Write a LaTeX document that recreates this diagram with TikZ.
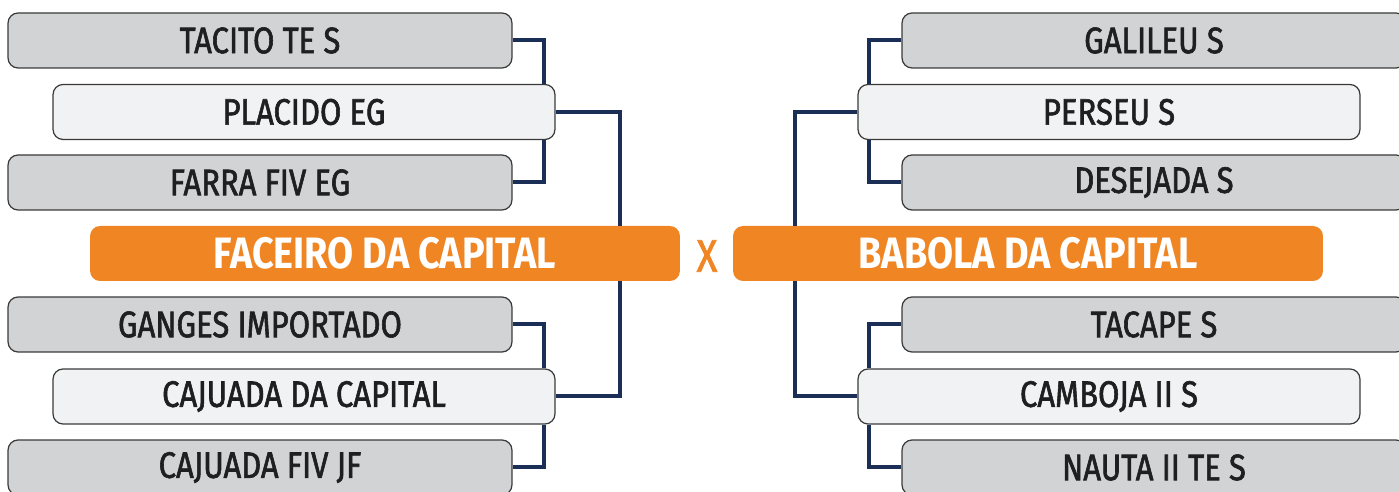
\documentclass[tikz,border=0pt]{standalone}
\usepackage{fontspec}
\setmainfont{Fira Sans}[FakeStretch=0.86]
\newfontfamily\entrantfont{Fira Sans}[FakeStretch=0.84, FakeBold=1.6]

\definecolor{boxgray}{HTML}{D1D3D4}
\definecolor{boxlight}{HTML}{F1F2F3}
\definecolor{boxedge}{HTML}{3A3A3A}
\definecolor{finalorange}{HTML}{F08523}
\definecolor{linknavy}{HTML}{1B2F56}

\begin{document}
\begin{tikzpicture}[x=0.02cm, y=-0.02cm,
    entrant/.style={draw=boxedge, line width=0.7pt, fill=boxgray, rounded corners=0.2cm,
        minimum width=10.08cm, minimum height=1.1cm, inner sep=0pt,
        font=\entrantfont\fontsize{21}{22}\selectfont, text=black!88},
    winner/.style={entrant, fill=boxlight, minimum width=10.04cm},
    finalist/.style={fill=finalorange, rounded corners=0.2cm, minimum width=11.8cm,
        minimum height=1.1cm, inner sep=0pt, text=white,
        font=\fontsize{25}{26}\selectfont\bfseries},
    link/.style={draw=linknavy, line width=0.08cm, line join=miter}]

    % Fix the frame to the size of the reference
    \useasboundingbox (0,0) rectangle (1399,492);
    \clip (0,0) rectangle (1399,492);

    % Left half of the bracket
    \node[entrant] (tacito) at (260, 40.5) {TACITO TE S};
    \node[winner] (placido) at (304, 112) {PLACIDO EG};
    \node[entrant] (farra) at (260, 182.5) {FARRA FIV EG};
    \node[finalist] (faceiro) at (385, 253.5) {FACEIRO DA CAPITAL};
    \node[entrant] (ganges) at (260, 324.5) {GANGES IMPORTADO};
    \node[winner] (cajcap) at (304, 396.5) {CAJUADA DA CAPITAL};
    \node[entrant] (cajfiv) at (260, 467.5) {CAJUADA FIV JF};

    % Right half of the bracket
    \node[entrant] (galileu) at (1154, 40.5) {GALILEU S};
    \node[winner] (perseu) at (1109, 112) {PERSEU S};
    \node[entrant] (desejada) at (1154, 182.5) {DESEJADA S};
    \node[finalist] (babola) at (1028, 253.5) {BABOLA DA CAPITAL};
    \node[entrant] (tacape) at (1154, 324.5) {TACAPE S};
    \node[winner] (camboja) at (1109, 396.5) {CAMBOJA II S};
    \node[entrant] (nauta) at (1154, 467.5) {NAUTA II TE S};

    % The versus mark between the two finalists
    \node[text=finalorange, font=\entrantfont\fontsize{26}{27}\selectfont] (versus) at (707, 256) {X};

    % Left connectors
    \draw[link] (tacito.east) -| ([xshift=-0.24cm]placido.north east);
    \draw[link] (farra.east) -| ([xshift=-0.24cm]placido.south east);
    \draw[link] (ganges.east) -| ([xshift=-0.24cm]cajcap.north east);
    \draw[link] (cajfiv.east) -| ([xshift=-0.24cm]cajcap.south east);
    \draw[link] (placido.east) -| ([xshift=-1.2cm]faceiro.north east);
    \draw[link] (cajcap.east) -| ([xshift=-1.2cm]faceiro.south east);

    % Right connectors
    \draw[link] (galileu.west) -| ([xshift=0.24cm]perseu.north west);
    \draw[link] (desejada.west) -| ([xshift=0.24cm]perseu.south west);
    \draw[link] (tacape.west) -| ([xshift=0.24cm]camboja.north west);
    \draw[link] (nauta.west) -| ([xshift=0.24cm]camboja.south west);
    \draw[link] (perseu.west) -| ([xshift=1.24cm]babola.north west);
    \draw[link] (camboja.west) -| ([xshift=1.24cm]babola.south west);

\end{tikzpicture}
\end{document}
